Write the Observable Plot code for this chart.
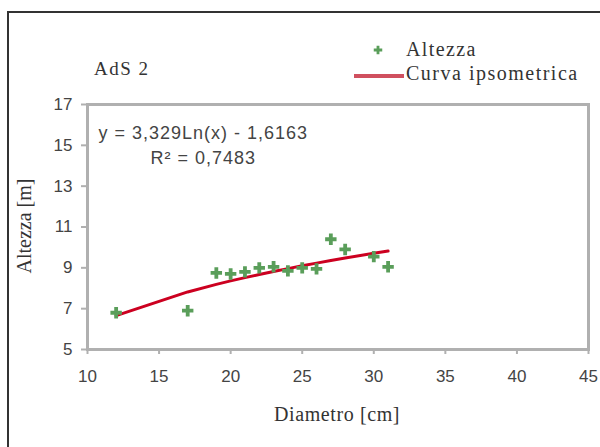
<!DOCTYPE html>
<html><head><meta charset="utf-8">
<script src="https://cdn.jsdelivr.net/npm/d3@7"></script>
<script src="https://cdn.jsdelivr.net/npm/@observablehq/plot@0.6"></script>
<style>
body{margin:0;background:#fff;}
#wrap{position:relative;width:600px;height:447px;overflow:hidden;background:#fff;}
#border{position:absolute;left:7px;top:11px;width:640px;height:480px;border:2px solid #333;box-sizing:border-box;}
.lab{position:absolute;font-family:"Liberation Serif","Times New Roman",serif;color:#333;white-space:nowrap;line-height:1.15;}
svg{position:absolute;left:0;top:0;}
.eq{letter-spacing:1px;}
</style></head>
<body><div id="wrap"><div id="border"></div></div>
<script>
const diametro = [12,17,19,20,21,22,23,24,25,26,27,28,30,31];
const altezza  = [6.8,6.9,8.75,8.7,8.8,9.0,9.05,8.85,9.0,8.95,10.4,9.9,9.55,9.05];
const curvaX   = [12,17,19,20,21,22,23,24,25,26,27,28,30,31];
const curvaY   = [6.66,7.82,8.19,8.36,8.52,8.67,8.82,8.96,9.10,9.23,9.36,9.48,9.71,9.82];
const xTicks = [10,15,20,25,30,35,40,45];
const yTicks = [5,7,9,11,13,15,17];
const equation = "y = 3,329Ln(x) - 1,6163";
const r2 = "R² = 0,7483";

const points = diametro.map((d,i)=>({d, h: altezza[i]}));
const curve = curvaX.map((d,i)=>({d, h: curvaY[i]}));

const chart = Plot.plot({
  width: 600, height: 447,
  marginLeft: 87, marginRight: 12, marginTop: 104, marginBottom: 98,
  style: {fontFamily: "Liberation Sans, Arial, sans-serif", fontSize: "17px", color: "#333", background: "transparent"},
  x: {domain: [10,45], ticks: xTicks, label: null},
  y: {domain: [5,17], ticks: yTicks, label: null},
  marks: [
    Plot.frame({stroke: "#b0b0b0", strokeWidth: 3}),
    Plot.axisX({ticks: xTicks, tickSize: 5, tickPadding: 15, stroke: "#b0b0b0", strokeWidth: 2, fontSize: 17, fill: "#444", label: null}),
    Plot.axisY({ticks: yTicks, tickSize: 6, tickPadding: 9, stroke: "#b0b0b0", strokeWidth: 2, fontSize: 17, fill: "#444", label: null}),
    Plot.line(curve, {x: "d", y: "h", stroke: "#cc0020", strokeWidth: 3}),
    Plot.dot(points, {x: "d", y: "h", symbol: "cross", r: 4.8, fill: "#5a9e5a", stroke: "none"}),
    Plot.text([equation], {frameAnchor: "top-left", dx: 11, dy: 22, text: d=>d, fontSize: 18, fill: "#444", textAnchor: "start", className: "eq"}),
    Plot.text([r2], {frameAnchor: "top-left", dx: 63, dy: 47, text: d=>d, fontSize: 18, fill: "#444", textAnchor: "start", className: "eq"})
  ]
});
const wrap = document.getElementById("wrap");
wrap.appendChild(chart);

function lab(text, css){const e=document.createElement("div");e.className="lab";e.textContent=text;Object.assign(e.style,css);wrap.appendChild(e);return e;}
lab("AdS 2",{left:"94px",top:"58px",fontSize:"19px",letterSpacing:"1.5px"});
lab("Altezza",{left:"406px",top:"38px",fontSize:"20px",letterSpacing:"1.4px"});
lab("Curva ipsometrica",{left:"406px",top:"62px",fontSize:"20px",letterSpacing:"1.5px"});
lab("Diametro [cm]",{left:"274px",top:"403px",fontSize:"20px",letterSpacing:"0.6px"});
lab("Altezza [m]",{left:"24px",top:"226px",fontSize:"20px",transform:"translate(-50%,-50%) rotate(-90deg)"});
// legend symbols
const ns="http://www.w3.org/2000/svg";
const lg=document.createElementNS(ns,"svg");lg.setAttribute("width",600);lg.setAttribute("height",447);lg.style.pointerEvents="none";
lg.innerHTML=`<path transform="translate(378,50)" d="${d3.symbol(d3.symbolCross, 40)()}" fill="#5a9e5a"/>
<line x1="354" y1="76" x2="404" y2="76" stroke="#d0505f" stroke-width="4"/>`;
wrap.appendChild(lg);
</script></body></html>
